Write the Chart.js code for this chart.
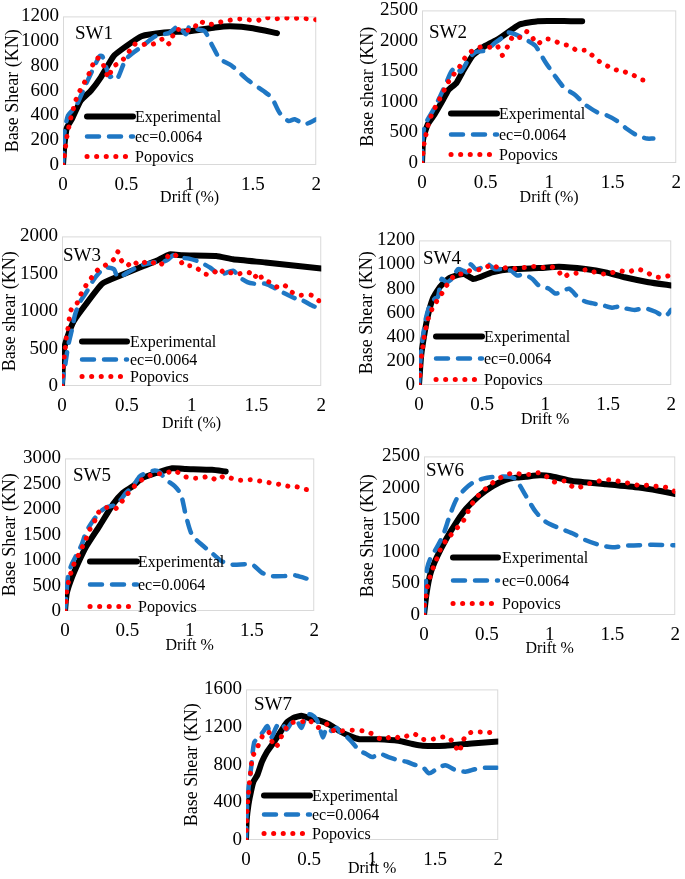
<!DOCTYPE html>
<html>
<head>
<meta charset="utf-8">
<script src="https://cdn.jsdelivr.net/npm/chart.js@4.4.1/dist/chart.umd.min.js"></script>
<style>
body { margin: 0; background: #fff; overflow: hidden; width: 685px; height: 879px; position: relative; }
.panel { position: absolute; }
</style>
</head>
<body>
<script>
// ---- data: [drift %, base shear kN] ----
const driftTicks = [0, 0.5, 1, 1.5, 2];
const names = ["SW1", "SW2", "SW3", "SW4", "SW5", "SW6", "SW7"];
const yMaxes = [1200, 2500, 2000, 1200, 3000, 2500, 1600];
const ySteps = [200, 500, 500, 200, 500, 500, 400];
const yTitles = ["Base Shear (KN)", "Base shear (KN)", "Base shear (KN)", "Base Shear (KN)",
                 "Base Shear (KN)", "Base Shear (KN)", "Base Shear (KN)"];
const xTitles = ["Drift (%)", "Drift (%)", "Drift (%)", "Drift %", "Drift %", "Drift %", "Drift %"];
const seriesNames = ["Experimental", "ec=0.0064", "Popovics"];

const sw1Exp = [[0,0],[0.01,150],[0.03,300],[0.07,370],[0.14,520],[0.22,600],[0.3,710],[0.4,880],[0.5,960],[0.62,1040],[0.8,1070],[1.0,1080],[1.2,1110],[1.32,1120],[1.5,1105],[1.69,1065]];
const sw1Ec = [[0,0],[0.01,250],[0.04,400],[0.1,470],[0.18,650],[0.24,780],[0.29,880],[0.31,880],[0.35,760],[0.37,712],[0.4,725],[0.43,700],[0.5,857],[0.63,962],[0.73,1040],[0.84,1068],[0.91,1120],[0.97,1055],[1.0,1120],[1.07,1094],[1.12,1080],[1.18,962],[1.24,857],[1.33,804],[1.46,686],[1.59,593],[1.65,540],[1.71,422],[1.78,356],[1.83,369],[1.91,330],[2.0,369]];
const sw1Pop = [[0,0],[0.01,66],[0.02,145],[0.03,224],[0.045,303],[0.06,374],[0.08,448],[0.1,520],[0.13,593],[0.165,659],[0.2,725],[0.23,796],[0.26,865],[0.3,849],[0.33,778],[0.36,704],[0.38,760],[0.41,804],[0.46,836],[0.51,897],[0.56,976],[0.6,962],[0.65,976],[0.71,976],[0.76,1007],[0.81,1020],[0.84,976],[0.89,1089],[0.97,1089],[1.03,1094],[1.07,1160],[1.15,1134],[1.23,1152],[1.31,1168],[1.39,1179],[1.46,1173],[1.54,1168],[1.59,1192],[1.67,1179],[1.74,1192],[1.8,1181],[1.87,1187],[1.93,1181],[2.0,1173]];

const sw2Exp = [[0,0],[0.008,374],[0.02,480],[0.047,641],[0.1,801],[0.16,1015],[0.21,1202],[0.27,1309],[0.32,1496],[0.4,1763],[0.5,1923],[0.6,2030],[0.71,2190],[0.77,2270],[0.91,2324],[1.17,2324],[1.26,2324]];
const sw2Ec = [[0,0],[0.008,480],[0.034,668],[0.085,855],[0.137,1068],[0.19,1309],[0.23,1496],[0.27,1576],[0.305,1496],[0.37,1710],[0.42,1816],[0.5,1843],[0.58,1977],[0.65,2083],[0.68,2137],[0.73,2110],[0.81,2030],[0.89,1923],[0.97,1656],[1.04,1442],[1.12,1229],[1.2,1122],[1.28,962],[1.38,828],[1.46,775],[1.53,694],[1.61,561],[1.69,454],[1.77,401],[1.82,401]];
const sw2Pop = [[0,0],[0.008,160],[0.016,310],[0.03,454],[0.047,614],[0.07,764],[0.1,897],[0.137,1042],[0.176,1202],[0.21,1336],[0.235,1416],[0.28,1523],[0.32,1667],[0.365,1790],[0.42,1870],[0.49,1912],[0.54,1896],[0.59,1923],[0.63,1763],[0.67,1896],[0.72,2083],[0.77,2057],[0.82,2153],[0.86,2083],[0.905,1950],[0.965,2030],[1.03,2019],[1.09,1950],[1.16,1923],[1.22,1843],[1.29,1843],[1.34,1763],[1.4,1656],[1.47,1576],[1.53,1523],[1.59,1496],[1.66,1442],[1.73,1362],[1.79,1362]];

const sw3Exp = [[0,0],[0.013,472],[0.04,646],[0.09,865],[0.18,1083],[0.31,1367],[0.45,1476],[0.6,1585],[0.73,1673],[0.83,1760],[0.93,1747],[1.19,1738],[1.32,1694],[1.57,1651],[2.0,1572]];
const sw3Ec = [[0,0],[0.026,297],[0.05,559],[0.08,777],[0.1,952],[0.14,1127],[0.19,1258],[0.24,1410],[0.29,1520],[0.33,1585],[0.4,1563],[0.43,1454],[0.51,1520],[0.6,1607],[0.7,1651],[0.78,1660],[0.82,1694],[0.86,1747],[0.91,1716],[0.98,1703],[1.06,1660],[1.14,1585],[1.19,1520],[1.24,1498],[1.32,1541],[1.37,1454],[1.43,1389],[1.49,1367],[1.57,1367],[1.65,1301],[1.72,1236],[1.8,1170],[1.85,1149],[1.92,1083],[1.95,1061],[2.0,1061]];
const sw3Pop = [[0,0],[0.005,144],[0.01,275],[0.018,406],[0.026,524],[0.033,646],[0.046,769],[0.056,900],[0.07,1018],[0.1,1052],[0.13,1162],[0.16,1280],[0.2,1380],[0.24,1476],[0.29,1576],[0.35,1629],[0.4,1694],[0.43,1795],[0.46,1673],[0.5,1607],[0.55,1673],[0.59,1616],[0.65,1660],[0.7,1651],[0.75,1607],[0.8,1694],[0.84,1773],[0.9,1716],[0.94,1607],[0.99,1607],[1.05,1563],[1.1,1498],[1.16,1494],[1.21,1572],[1.26,1498],[1.32,1520],[1.37,1502],[1.41,1529],[1.45,1511],[1.48,1445],[1.52,1511],[1.55,1411],[1.6,1389],[1.66,1323],[1.71,1354],[1.77,1258],[1.83,1214],[1.89,1223],[1.94,1205],[1.99,1127]];

const sw4Exp = [[0,0],[0.016,230],[0.034,366],[0.066,555],[0.11,718],[0.165,813],[0.23,880],[0.31,913],[0.36,921],[0.43,880],[0.48,894],[0.58,935],[0.74,962],[0.95,970],[1.11,981],[1.32,962],[1.48,935],[1.63,894],[1.82,853],[2.0,826]];
const sw4Ec = [[0,0],[0.013,230],[0.03,393],[0.055,555],[0.087,664],[0.126,718],[0.15,731],[0.18,880],[0.22,853],[0.26,880],[0.31,962],[0.35,948],[0.39,935],[0.41,1002],[0.45,962],[0.5,975],[0.545,1002],[0.6,962],[0.66,962],[0.73,948],[0.78,908],[0.83,921],[0.9,880],[0.95,826],[1.03,799],[1.08,759],[1.13,772],[1.19,799],[1.27,718],[1.34,685],[1.45,664],[1.53,642],[1.58,650],[1.63,637],[1.71,623],[1.79,637],[1.87,610],[1.95,569],[2.0,623]];
const sw4Pop = [[0,0],[0.008,81],[0.013,163],[0.021,244],[0.03,317],[0.04,393],[0.055,474],[0.073,550],[0.1,623],[0.134,685],[0.17,740],[0.21,813],[0.25,867],[0.29,921],[0.35,921],[0.4,948],[0.47,956],[0.53,975],[0.58,1002],[0.64,962],[0.7,975],[0.77,967],[0.84,975],[0.91,983],[0.98,975],[1.04,983],[1.1,956],[1.14,894],[1.19,921],[1.25,929],[1.32,956],[1.38,940],[1.46,921],[1.52,929],[1.59,948],[1.66,935],[1.72,962],[1.8,940],[1.86,902],[1.93,894],[2.0,913]];

const sw5Exp = [[0,0],[0.013,334],[0.045,591],[0.1,912],[0.17,1266],[0.28,1683],[0.385,2100],[0.465,2325],[0.545,2454],[0.62,2615],[0.73,2711],[0.86,2807],[0.97,2794],[1.18,2775],[1.29,2743]];
const sw5Ec = [[0,0],[0.013,398],[0.027,719],[0.053,912],[0.093,1105],[0.133,1298],[0.17,1555],[0.226,1779],[0.28,1940],[0.33,2036],[0.4,2081],[0.44,2165],[0.49,2325],[0.545,2454],[0.6,2647],[0.65,2711],[0.72,2762],[0.76,2724],[0.81,2582],[0.88,2454],[0.93,2293],[0.97,1876],[1.02,1490],[1.1,1298],[1.18,1137],[1.26,976],[1.34,912],[1.5,912],[1.58,752],[1.66,687],[1.77,687],[1.85,700],[1.93,642],[2.0,604]];
const sw5Pop = [[0,0],[0.008,173],[0.013,366],[0.027,559],[0.045,732],[0.07,912],[0.106,1092],[0.14,1266],[0.17,1426],[0.2,1606],[0.24,1779],[0.27,1940],[0.33,2036],[0.4,2004],[0.45,2133],[0.5,2293],[0.545,2422],[0.6,2550],[0.66,2647],[0.73,2692],[0.81,2711],[0.88,2762],[0.94,2660],[1.01,2615],[1.09,2615],[1.16,2647],[1.22,2570],[1.28,2660],[1.35,2595],[1.42,2570],[1.5,2582],[1.575,2550],[1.65,2518],[1.73,2486],[1.79,2454],[1.86,2441],[1.93,2390],[2.0,2377]];

const sw6Exp = [[0,0],[0.02,335],[0.05,644],[0.1,902],[0.18,1211],[0.26,1469],[0.335,1675],[0.44,1881],[0.55,2036],[0.65,2129],[0.73,2165],[0.81,2180],[0.92,2201],[1.0,2191],[1.18,2113],[1.45,2062],[1.71,2010],[1.87,1959],[2.0,1907]];
const sw6Ec = [[0,0],[0.013,438],[0.026,747],[0.053,902],[0.1,1057],[0.153,1263],[0.206,1572],[0.26,1830],[0.325,1985],[0.39,2088],[0.47,2150],[0.575,2180],[0.68,2180],[0.73,2139],[0.81,1881],[0.89,1624],[0.97,1469],[1.08,1366],[1.18,1289],[1.28,1186],[1.39,1108],[1.5,1067],[1.6,1093],[1.71,1098],[1.82,1108],[2.0,1098]];
const sw6Pop = [[0,0],[0.005,155],[0.016,294],[0.026,438],[0.047,593],[0.074,747],[0.105,902],[0.13,1031],[0.17,1160],[0.21,1253],[0.26,1366],[0.3,1443],[0.33,1546],[0.364,1686],[0.4,1804],[0.456,1933],[0.52,2036],[0.575,2129],[0.64,2191],[0.71,2242],[0.78,2216],[0.85,2216],[0.92,2242],[0.99,2165],[1.05,2088],[1.12,2113],[1.18,2026],[1.23,2010],[1.3,2062],[1.37,2098],[1.43,2129],[1.51,2129],[1.58,2088],[1.65,2077],[1.72,2036],[1.79,2046],[1.86,2026],[1.93,2010],[2.0,1943]];

const sw7Exp = [[0,0],[0.005,207],[0.02,380],[0.04,518],[0.06,622],[0.09,691],[0.126,829],[0.165,933],[0.22,1037],[0.27,1140],[0.32,1244],[0.375,1296],[0.44,1320],[0.5,1296],[0.58,1272],[0.66,1227],[0.74,1158],[0.82,1106],[0.9,1071],[1.05,1071],[1.21,1054],[1.32,1020],[1.4,1002],[1.58,1002],[1.79,1026],[2.0,1047]];
const sw7Ec = [[0,0],[0.005,276],[0.02,553],[0.04,760],[0.065,1037],[0.1,1089],[0.14,1158],[0.17,1210],[0.2,1089],[0.244,1210],[0.28,1244],[0.32,1175],[0.36,1244],[0.4,1272],[0.44,1192],[0.48,1330],[0.52,1330],[0.56,1279],[0.585,1192],[0.61,1089],[0.64,1192],[0.68,1158],[0.72,1192],[0.755,1123],[0.79,1106],[0.83,1054],[0.9,950],[0.95,916],[1.0,881],[1.06,916],[1.13,881],[1.21,847],[1.28,829],[1.33,802],[1.4,778],[1.45,708],[1.5,743],[1.58,795],[1.66,743],[1.74,726],[1.82,753],[1.9,767],[2.0,767]];
const sw7Pop = [[0,0],[0.003,97],[0.005,200],[0.008,294],[0.013,397],[0.02,491],[0.026,594],[0.034,691],[0.042,795],[0.055,892],[0.087,975],[0.113,1054],[0.144,1134],[0.18,1147],[0.204,1054],[0.225,985],[0.257,1020],[0.283,1106],[0.32,1192],[0.36,1244],[0.4,1254],[0.45,1258],[0.5,1279],[0.545,1210],[0.6,1192],[0.65,1234],[0.7,1158],[0.755,1158],[0.81,1168],[0.87,1165],[0.93,1158],[0.99,1134],[1.06,1078],[1.11,1078],[1.17,1106],[1.23,1078],[1.29,1113],[1.34,1123],[1.4,1071],[1.48,1071],[1.54,1089],[1.6,1096],[1.65,1020],[1.69,933],[1.71,1020],[1.75,1123],[1.8,1147],[1.86,1147],[1.91,1140],[1.96,1147],[2.0,1140]];

const expSeries = [sw1Exp, sw2Exp, sw3Exp, sw4Exp, sw5Exp, sw6Exp, sw7Exp];
const ecSeries = [sw1Ec, sw2Ec, sw3Ec, sw4Ec, sw5Ec, sw6Ec, sw7Ec];
const popSeries = [sw1Pop, sw2Pop, sw3Pop, sw4Pop, sw5Pop, sw6Pop, sw7Pop];

// ---- layout (page pixels) ----
// plot: [left, top, right, bottom], yw: y axis box width, xh: x axis box height
// tag: panel name offset in plot, leg: [sample start, sample end, text x, row1, row2, row3]
const layout = [
    { plot: [63, 13, 318, 165], yw: 61, xh: 42, tag: [12, 18], leg: [24, 70, 72, 100, 120, 140] },
    { plot: [422, 7, 678, 163], yw: 65, xh: 44, tag: [7, 23], leg: [29, 75, 77, 103, 124, 144] },
    { plot: [62, 233, 323, 386], yw: 63, xh: 47, tag: [1, 20], leg: [20, 65, 68, 105, 123, 140] },
    { plot: [419, 237, 673, 385], yw: 63, xh: 44, tag: [4, 19], leg: [17, 63, 65, 96, 118, 139] },
    { plot: [65, 455, 316, 611], yw: 66, xh: 44, tag: [8, 18], leg: [25, 72, 73, 103, 126, 148] },
    { plot: [424, 453, 677, 615], yw: 67, xh: 43, tag: [2, 15], leg: [29, 74, 78, 101, 124, 147] },
    { plot: [246, 686, 500, 840], yw: 65, xh: 38, tag: [8, 16], leg: [18, 64, 66, 106, 125, 144] },
];

const FONT = "'Liberation Serif', 'Times New Roman', serif";
const styles = [
    { borderColor: "#000000", borderWidth: 6, borderDash: [], borderCapStyle: "round" },
    { borderColor: "#1f77c4", borderWidth: 4.5, borderDash: [12, 10], borderCapStyle: "round" },
    { borderColor: "#ff0000", borderWidth: 5, borderDash: [0.1, 9.5], borderCapStyle: "round" },
];

const toXY = (a) => a.map((p) => ({ x: p[0], y: p[1] }));

// frame, panel name and legend inside the plot area
const decoPlugin = {
    id: "deco",
    beforeDatasetsDraw(chart) {
        const a = chart.chartArea;
        const ctx = chart.ctx;
        ctx.save();
        ctx.strokeStyle = "#d9d9d9";
        ctx.lineWidth = 1;
        ctx.strokeRect(a.left + 0.5, a.top + 0.5, a.right - a.left - 1, a.bottom - a.top - 1);
        ctx.restore();
    },
    afterDatasetsDraw(chart, args, opts) {
        const a = chart.chartArea;
        const ctx = chart.ctx;
        ctx.save();
        ctx.fillStyle = "#000";
        ctx.textBaseline = "middle";
        ctx.font = "19px " + FONT;
        ctx.fillText(opts.name, a.left + opts.tag[0], a.top + opts.tag[1]);
        ctx.font = "16px " + FONT;
        for (let i = 0; i < 3; i++) {
            const s = styles[i];
            const y = a.top + opts.leg[3 + i];
            ctx.beginPath();
            ctx.strokeStyle = s.borderColor;
            ctx.lineWidth = s.borderWidth;
            ctx.lineCap = s.borderCapStyle;
            ctx.setLineDash(s.borderDash);
            ctx.moveTo(a.left + opts.leg[0], y);
            ctx.lineTo(a.left + opts.leg[1], y);
            ctx.stroke();
            ctx.setLineDash([]);
            ctx.fillText(seriesNames[i], a.left + opts.leg[2], y + 1);
        }
        ctx.restore();
    },
};

for (let i = 0; i < names.length; i++) {
    const L = layout[i];
    const padTop = 12, padRight = 12;
    const div = document.createElement("div");
    div.className = "panel";
    div.style.left = (L.plot[0] - L.yw) + "px";
    div.style.top = (L.plot[1] - padTop) + "px";
    div.style.width = (L.plot[2] - L.plot[0] + L.yw + padRight) + "px";
    div.style.height = (L.plot[3] - L.plot[1] + padTop + L.xh) + "px";
    const canvas = document.createElement("canvas");
    div.appendChild(canvas);
    document.body.appendChild(div);

    const series = [expSeries[i], ecSeries[i], popSeries[i]];
    const datasets = [2, 1, 0].map((k) => ({
        label: seriesNames[k],
        data: toXY(series[k]),
        showLine: true,
        pointRadius: 0,
        tension: k == 0 ? 0.15 : 0.25,
        ...styles[k],
    }));

    new Chart(canvas, {
        type: "scatter",
        data: { datasets: datasets },
        options: {
            responsive: true,
            maintainAspectRatio: false,
            animation: false,
            events: [],
            layout: { padding: { top: padTop, right: padRight, left: 0, bottom: 0 } },
            plugins: {
                legend: { display: false },
                tooltip: { enabled: false },
                deco: { name: names[i], tag: L.tag, leg: L.leg },
            },
            scales: {
                x: {
                    type: "linear",
                    min: driftTicks[0],
                    max: driftTicks[driftTicks.length - 1],
                    afterBuildTicks: (s) => { s.ticks = driftTicks.map((v) => ({ value: v })); },
                    ticks: { autoSkip: false, maxRotation: 0, padding: 9, color: "#000", font: { family: FONT, size: 19 }, callback: (v) => String(v) },
                    grid: { display: false, drawTicks: false },
                    border: { display: false },
                    title: { display: true, text: xTitles[i], color: "#000", font: { family: FONT, size: 16 }, padding: 0 },
                    afterFit: (s) => { s.height = L.xh; },
                },
                y: {
                    min: 0,
                    max: yMaxes[i],
                    ticks: { autoSkip: false, stepSize: ySteps[i], padding: 4, color: "#000", font: { family: FONT, size: 19 }, callback: (v) => String(v) },
                    grid: { display: false, drawTicks: false },
                    border: { display: false },
                    title: { display: true, text: yTitles[i], color: "#000", font: { family: FONT, size: 18 }, padding: 0 },
                    afterFit: (s) => { s.width = L.yw; },
                },
            },
        },
        plugins: [decoPlugin],
    });
}
</script>
</body>
</html>
